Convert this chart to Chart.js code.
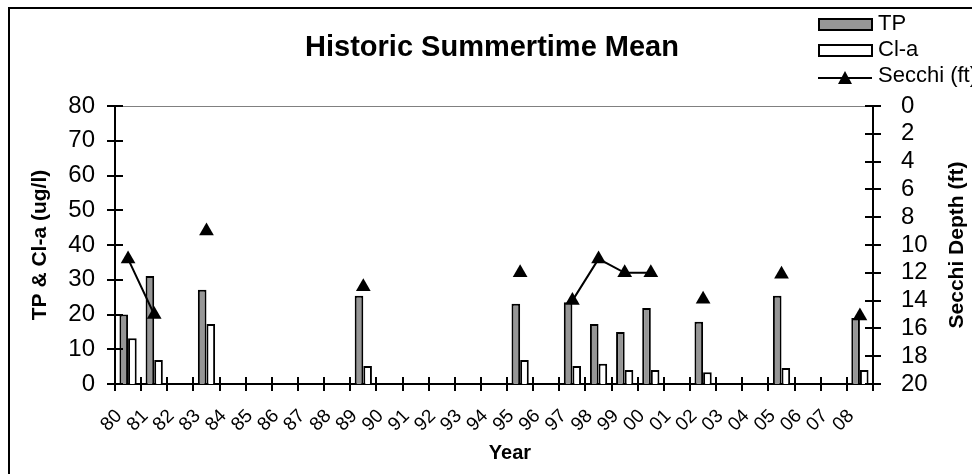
<!DOCTYPE html>
<html>
<head>
<meta charset="utf-8">
<script src="https://cdn.jsdelivr.net/npm/chart.js@4/dist/chart.umd.min.js"></script>
<style>
html,body{margin:0;padding:0;background:#fff;}
#wrap{width:972px;height:474px;position:relative;overflow:hidden;}
</style>
</head>
<body>
<div id="wrap"><canvas id="c" width="972" height="474"></canvas></div>
<script>
// ---- data ----
const years = ['80','81','82','83','84','85','86','87','88','89','90','91','92','93','94','95','96','97','98','99','00','01','02','03','04','05','06','07','08'];
const tpValues = [20.0, 31.1, null, 27.1, null, null, null, null, null, 25.4, null, null, null, null, null, 23.1, null, 23.5, 17.3, 15.0, 21.9, null, 17.9, null, null, 25.4, null, null, 19.0];
const chlaValues = [13.2, 6.9, null, 17.3, null, null, null, null, null, 5.2, null, null, null, null, null, 6.9, null, 5.2, 5.8, 4.0, 4.0, null, 3.4, null, null, 4.6, null, null, 4.0];
const secchiValues = [11.0, 15.0, null, 9.0, null, null, null, null, null, 13.0, null, null, null, null, null, 12.0, null, 14.0, 11.0, 12.0, 12.0, null, 13.9, null, null, 12.1, null, null, 15.1];
const leftTicks = [0, 10, 20, 30, 40, 50, 60, 70, 80];
const rightTicks = [0, 2, 4, 6, 8, 10, 12, 14, 16, 18, 20];

const FONT = '"Liberation Sans", Arial, sans-serif';

const decor = {
  id: 'decor',
  beforeDraw(chart) {
    const ctx = chart.ctx;
    ctx.save();
    ctx.fillStyle = '#fff';
    ctx.fillRect(0, 0, chart.width, chart.height);
    ctx.restore();
  },
  afterDatasetsDraw(chart) {
    const {ctx, chartArea: a, scales} = chart;
    ctx.save();
    // gray plot-area top border
    ctx.strokeStyle = '#808080';
    ctx.lineWidth = 1;
    ctx.beginPath();
    ctx.moveTo(a.left, a.top + 0.5);
    ctx.lineTo(a.right, a.top + 0.5);
    ctx.stroke();
    // crossing tick marks
    ctx.strokeStyle = '#000';
    ctx.lineWidth = 2;
    ctx.beginPath();
    scales.y.ticks.forEach((t) => {
      const py = Math.round(scales.y.getPixelForValue(t.value));
      ctx.moveTo(a.left - 8, py); ctx.lineTo(a.left + 8, py);
    });
    scales.y2.ticks.forEach((t) => {
      const py = Math.round(scales.y2.getPixelForValue(t.value));
      ctx.moveTo(a.right - 8, py); ctx.lineTo(a.right + 8, py);
    });
    for (let i = 0; i <= years.length; i++) {
      const px = Math.round(scales.x.getPixelForValue(i - 0.5));
      ctx.moveTo(px, a.bottom - 7); ctx.lineTo(px, a.bottom + 7);
    }
    ctx.stroke();
    ctx.restore();
  },
  afterDraw(chart) {
    const {ctx, chartArea: a} = chart;
    ctx.save();
    // outer border
    ctx.strokeStyle = '#000';
    ctx.lineWidth = 2;
    ctx.strokeRect(9, 8, 1000, 500);
    // title
    ctx.fillStyle = '#000';
    ctx.textAlign = 'center';
    ctx.textBaseline = 'middle';
    ctx.font = 'bold 29px ' + FONT;
    ctx.fillText('Historic Summertime Mean', 492, 48);
    // x title
    ctx.font = 'bold 20px ' + FONT;
    ctx.fillText('Year', 510, 453);
    // left title
    ctx.font = 'bold 21px ' + FONT;
    ctx.save();
    ctx.translate(40, (a.top + a.bottom) / 2);
    ctx.rotate(-Math.PI / 2);
    ctx.fillText('TP & Cl-a (ug/l)', 0, 0);
    ctx.restore();
    // right title
    ctx.save();
    ctx.translate(957, (a.top + a.bottom) / 2);
    ctx.rotate(-Math.PI / 2);
    ctx.fillText('Secchi Depth (ft)', 0, 0);
    ctx.restore();
    // legend
    ctx.font = '22px ' + FONT;
    ctx.textAlign = 'left';
    ctx.lineWidth = 2;
    ctx.fillStyle = '#969696';
    ctx.fillRect(819, 19, 53, 11);
    ctx.strokeRect(819, 19, 53, 11);
    ctx.fillStyle = '#fff';
    ctx.fillRect(819, 45, 53, 11);
    ctx.strokeRect(819, 45, 53, 11);
    ctx.beginPath();
    ctx.moveTo(818, 78); ctx.lineTo(872, 78);
    ctx.stroke();
    ctx.fillStyle = '#000';
    ctx.beginPath();
    ctx.moveTo(845, 71); ctx.lineTo(852, 84); ctx.lineTo(838, 84); ctx.closePath();
    ctx.fill();
    ctx.fillText('TP', 878, 24);
    ctx.fillText('Cl-a', 878, 50);
    ctx.fillText('Secchi (ft)', 878, 76);
    ctx.restore();
  }
};

new Chart(document.getElementById('c'), {
  type: 'bar',
  data: {
    labels: years,
    datasets: [
      {
        type: 'line', label: 'Secchi (ft)', data: secchiValues, yAxisID: 'y2', order: 0,
        borderColor: '#000', backgroundColor: '#000', borderWidth: 2,
        pointStyle: 'triangle', pointRadius: 8.5, pointHoverRadius: 8.5,
        pointBackgroundColor: '#000', pointBorderColor: '#000', pointBorderWidth: 0,
        spanGaps: false, tension: 0
      },
      {
        label: 'TP', data: tpValues, yAxisID: 'y', order: 1,
        backgroundColor: '#969696', borderColor: '#000', borderWidth: 2,
        barPercentage: 1.0, categoryPercentage: 0.66, skipNull: false
      },
      {
        label: 'Cl-a', data: chlaValues, yAxisID: 'y', order: 2,
        backgroundColor: '#fff', borderColor: '#000', borderWidth: 2,
        barPercentage: 1.0, categoryPercentage: 0.66, skipNull: false
      }
    ]
  },
  options: {
    responsive: false,
    animation: false,
    devicePixelRatio: 1,
    layout: { padding: { top: 106, left: 0, right: 0, bottom: 0 } },
    plugins: { legend: { display: false }, title: { display: false }, tooltip: { enabled: false } },
    scales: {
      x: {
        type: 'category', offset: true,
        grid: { display: false },
        border: { display: true, color: '#000', width: 2 },
        ticks: {
          autoSkip: false, maxRotation: 45, minRotation: 45, padding: 13, labelOffset: -9,
          color: '#000', font: { family: FONT, size: 19 }
        },
        afterFit(s) { s.height = 90; s.paddingLeft = 0; s.paddingRight = 0; }
      },
      y: {
        position: 'left', min: 0, max: 80,
        afterBuildTicks(s) { s.ticks = leftTicks.map(v => ({ value: v })); },
        grid: { display: false },
        border: { display: true, color: '#000', width: 2 },
        ticks: { autoSkip: false, padding: 12, color: '#000', font: { family: FONT, size: 24 } },
        afterFit(s) { s.width = 115; s.paddingTop = 0; s.paddingBottom = 0; }
      },
      y2: {
        position: 'right', min: 0, max: 20, reverse: true,
        afterBuildTicks(s) { s.ticks = rightTicks.map(v => ({ value: v })); },
        grid: { display: false },
        border: { display: true, color: '#000', width: 2 },
        ticks: { autoSkip: false, padding: 20, color: '#000', font: { family: FONT, size: 24 } },
        afterFit(s) { s.width = 99; s.paddingTop = 0; s.paddingBottom = 0; }
      }
    }
  },
  plugins: [decor]
});
</script>
</body>
</html>
